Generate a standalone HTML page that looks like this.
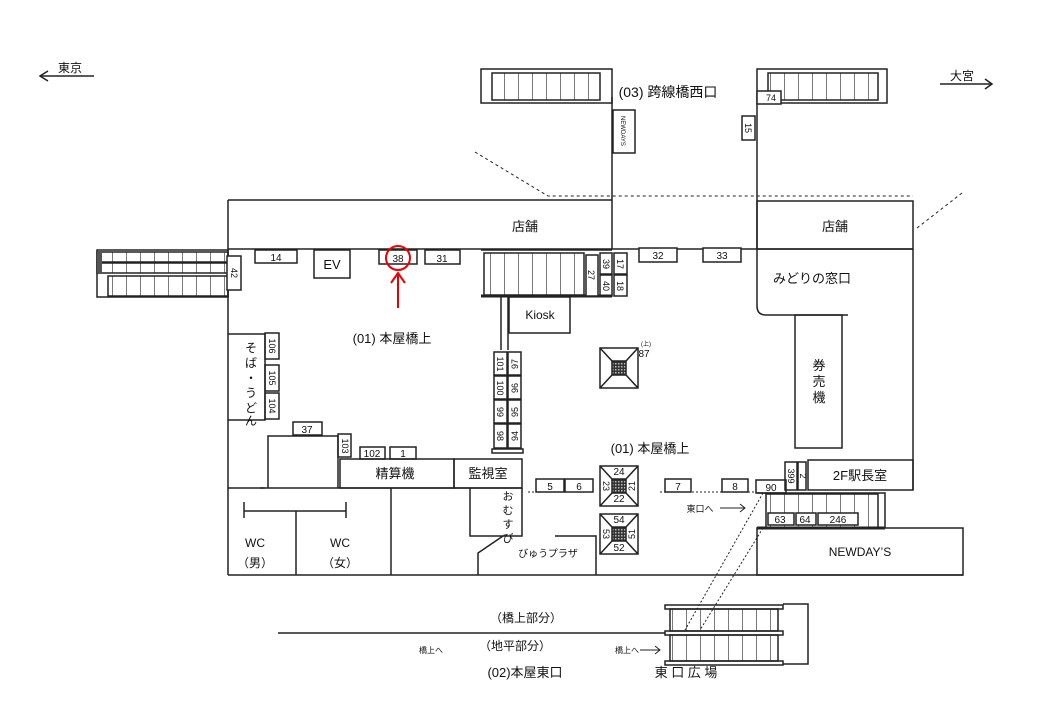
<!DOCTYPE html><html><head><meta charset="utf-8"><style>html,body{margin:0;padding:0;background:#fff}svg{display:block}text{font-family:"Liberation Sans","Noto Sans CJK JP",sans-serif;fill:#111}</style></head><body>
<svg width="1040" height="720" viewBox="0 0 1040 720" xmlns="http://www.w3.org/2000/svg">
<defs>
<pattern id="st" width="14" height="10" patternUnits="userSpaceOnUse"><line x1="0" y1="0" x2="0" y2="10" stroke="#222" stroke-width="1.2"/></pattern>
<pattern id="hx" width="3" height="3" patternUnits="userSpaceOnUse"><rect width="3" height="3" fill="#333"/><rect width="1.5" height="1.5" fill="#bbb"/></pattern>
</defs>
<g stroke="#222" stroke-width="1.5" fill="none">
<!-- direction arrows -->
<line x1="40" y1="76" x2="94" y2="76"/><polyline points="48,71 40,76 48,81"/>
<line x1="940" y1="84" x2="992" y2="84"/><polyline points="985,79 992,84 985,89"/>
<!-- top stairs -->
<rect x="481" y="69" width="131" height="34"/><rect x="492" y="73" width="108" height="27" fill="url(#st)"/>
<rect x="757" y="69" width="130" height="34"/><rect x="768" y="73" width="110" height="27" fill="url(#st)"/>
<line x1="612" y1="97" x2="612" y2="249"/><line x1="757" y1="103" x2="757" y2="249"/>
<rect x="613" y="110" width="22" height="43" fill="#fff"/>
<rect x="742" y="116" width="13" height="24"/><rect x="757" y="91" width="24" height="13" fill="#fff"/>
<!-- dashed -->
<polyline points="475,152 548,196 913,196" stroke-dasharray="3,3" stroke-width="1"/>
<line x1="917" y1="228" x2="962" y2="193" stroke-dasharray="3,3" stroke-width="1"/>
<!-- main outline -->
<line x1="228" y1="200" x2="612" y2="200"/><rect x="757" y="201" width="156" height="48"/>
<line x1="228" y1="200" x2="228" y2="575"/>
<line x1="228" y1="249" x2="913" y2="249"/>
<line x1="913" y1="249" x2="913" y2="490"/>
<line x1="228" y1="575" x2="963" y2="575"/>
<!-- left escalator -->
<rect x="97" y="250" width="131" height="47"/>
<rect x="97" y="252" width="131" height="10" fill="url(#st)"/>
<rect x="97" y="263" width="131" height="10" fill="url(#st)"/>
<rect x="108" y="276" width="120" height="20" fill="url(#st)"/>
<rect x="97" y="252" width="5" height="21" fill="#555" stroke="none"/>
<rect x="227" y="256" width="14" height="34" fill="#fff"/>
<!-- top-row boxes -->
<rect x="255" y="250" width="42" height="13"/><rect x="314" y="250" width="36" height="28"/>
<rect x="379" y="250" width="38" height="14"/><rect x="425" y="250" width="35" height="14"/>
<!-- central stairs -->
<line x1="481" y1="250" x2="612" y2="250"/><line x1="481" y1="296" x2="612" y2="296" stroke-width="3"/>
<rect x="484" y="253" width="100" height="42" fill="url(#st)"/>
<rect x="586" y="255" width="12" height="41" fill="#fff"/>
<rect x="600" y="253" width="12" height="21"/><rect x="600" y="275" width="12" height="21"/>
<rect x="614" y="253" width="13" height="21"/><rect x="614" y="275" width="13" height="21"/>
<rect x="639" y="248" width="38" height="14" fill="#fff"/><rect x="703" y="248" width="38" height="14" fill="#fff"/>
<rect x="509" y="297" width="61" height="36"/>
<line x1="501" y1="297" x2="501" y2="350"/><line x1="508" y1="297" x2="508" y2="350"/>
<!-- lockers -->
<rect x="494" y="352" width="13" height="23"/><rect x="508" y="352" width="13" height="23"/>
<rect x="494" y="376" width="13" height="23"/><rect x="508" y="376" width="13" height="23"/>
<rect x="494" y="400" width="13" height="23"/><rect x="508" y="400" width="13" height="23"/>
<rect x="494" y="424" width="13" height="24"/><rect x="508" y="424" width="13" height="24"/>
<rect x="492" y="449" width="31" height="4"/>
<!-- soba -->
<polyline points="228,334 265,334 265,420 228,420"/>
<rect x="265" y="333" width="14" height="26"/><rect x="265" y="365" width="14" height="26"/><rect x="265" y="393" width="14" height="26"/>
<rect x="293" y="422" width="29" height="13"/>
<polyline points="268,488 268,436 338,436 338,488"/>
<rect x="338" y="434" width="13" height="23"/>
<rect x="360" y="447" width="25" height="12"/><rect x="390" y="447" width="26" height="12"/>
<rect x="340" y="459" width="114" height="29"/><rect x="454" y="459" width="68" height="29"/>
<line x1="228" y1="488" x2="265" y2="488"/><line x1="260" y1="488" x2="522" y2="488"/>
<line x1="244" y1="502" x2="244" y2="518"/><line x1="346" y1="502" x2="346" y2="518"/><line x1="244" y1="511" x2="346" y2="511"/>
<line x1="296" y1="511" x2="296" y2="575"/><line x1="391" y1="488" x2="391" y2="575"/>
<polyline points="470,488 470,536 522,536 522,488"/>
<polyline points="503,536 478,553 478,575"/><polyline points="555,536 596,536 596,575"/>
<!-- pillars -->
<g id="p"><rect x="600" y="348" width="38" height="40"/><rect x="612" y="361" width="14" height="14" fill="url(#hx)"/><line x1="600" y1="348" x2="612" y2="361"/><line x1="638" y1="348" x2="626" y2="361"/><line x1="600" y1="388" x2="612" y2="375"/><line x1="638" y1="388" x2="626" y2="375"/></g>
<use href="#p" y="118"/><use href="#p" y="166"/>
<!-- midori -->
<path d="M757,249 V306 Q757,315 766,315 H848"/>
<rect x="795" y="315" width="47" height="133"/>
<rect x="808" y="460" width="105" height="30"/><rect x="785" y="462" width="12" height="28"/><rect x="798" y="462" width="8" height="28"/>
<rect x="536" y="479" width="28" height="13"/><rect x="565" y="479" width="28" height="13"/>
<rect x="665" y="479" width="26" height="13"/><rect x="722" y="479" width="26" height="13"/>
<rect x="756" y="480" width="30" height="13"/>
<line x1="528" y1="492" x2="536" y2="492" stroke-dasharray="2,2" stroke-width="1"/>
<line x1="660" y1="492" x2="756" y2="492" stroke-dasharray="2,2" stroke-width="1"/>
<polyline points="757,493 885,493 885,528"/>
<rect x="766" y="494" width="112" height="34" fill="url(#st)"/>
<rect x="768" y="513" width="26" height="12" fill="#fff"/><rect x="796" y="513" width="20" height="12" fill="#fff"/><rect x="818" y="513" width="40" height="12" fill="#fff"/>
<line x1="757" y1="528" x2="885" y2="528" stroke-width="3"/>
<rect x="757" y="528" width="206" height="47"/>
<line x1="763" y1="493" x2="685" y2="630" stroke-dasharray="2,2" stroke-width="1"/>
<line x1="763" y1="528" x2="700" y2="630" stroke-dasharray="2,2" stroke-width="1"/>
<line x1="720" y1="508" x2="745" y2="508" stroke-width="1"/><polyline points="740,504 745,508 740,512" stroke-width="1"/>
<!-- bottom -->
<line x1="278" y1="633" x2="665" y2="633"/>
<rect x="665" y="605" width="118" height="4"/><rect x="665" y="631" width="118" height="4"/><rect x="665" y="661" width="118" height="4"/>
<rect x="670" y="609" width="108" height="22" fill="url(#st)"/><rect x="670" y="635" width="108" height="26" fill="url(#st)"/>
<polyline points="783,604 808,604 808,664 783,664"/>
<line x1="640" y1="650" x2="660" y2="650" stroke-width="1"/><polyline points="655,646 660,650 655,654" stroke-width="1"/>
<circle cx="398" cy="258" r="12" stroke="#e00" stroke-width="2"/>
<line x1="398" y1="273" x2="398" y2="308" stroke="#e00" stroke-width="2"/><polyline points="391,283 398,273 405,283" stroke="#e00" stroke-width="2"/>
</g>
<g font-size="12" text-anchor="middle">
<text x="70" y="72">東京</text><text x="962" y="80">大宮</text>
<text x="668" y="97" font-size="14">(03) 跨線橋西口</text>
<text x="525" y="231" font-size="13">店舗</text><text x="835" y="231" font-size="13">店舗</text>
<text x="276" y="261" font-size="10">14</text><text x="332" y="269" font-size="13">EV</text>
<text x="398" y="262" font-size="10">38</text><text x="442" y="262" font-size="10">31</text>
<text x="658" y="259" font-size="10">32</text><text x="722" y="259" font-size="10">33</text>
<text x="771" y="101" font-size="9">74</text>
<text x="540" y="319" font-size="12">Kiosk</text>
<text x="392" y="343" font-size="13">(01) 本屋橋上</text>
<text x="650" y="453" font-size="13">(01) 本屋橋上</text>
<text x="812" y="283" font-size="13">みどりの窓口</text>
<text x="819" y="370" font-size="13">券</text><text x="819" y="386" font-size="13">売</text><text x="819" y="402" font-size="13">機</text>
<text x="860" y="480" font-size="13">2F駅長室</text>
<text x="395" y="478" font-size="13">精算機</text><text x="488" y="478" font-size="13">監視室</text>
<text x="255" y="547">WC</text><text x="255" y="567">（男）</text>
<text x="340" y="547">WC</text><text x="340" y="567">（女）</text>
<text x="548" y="557" font-size="10">びゅうプラザ</text>
<text x="860" y="556" font-size="12">NEWDAY’S</text>
<text x="307" y="433" font-size="10">37</text><text x="372" y="457" font-size="10">102</text><text x="403" y="457" font-size="10">1</text>
<text x="550" y="490" font-size="10">5</text><text x="579" y="490" font-size="10">6</text>
<text x="678" y="490" font-size="10">7</text><text x="735" y="490" font-size="10">8</text><text x="771" y="491" font-size="10">90</text>
<text x="619" y="475" font-size="10">24</text><text x="619" y="502" font-size="10">22</text>
<text x="619" y="523" font-size="10">54</text><text x="619" y="551" font-size="10">52</text>
<text x="644" y="357" font-size="10">87</text><text x="646" y="346" font-size="6">(上)</text>
<text x="780" y="523" font-size="10">63</text><text x="805" y="523" font-size="10">64</text><text x="838" y="523" font-size="10">246</text>
<text x="700" y="512" font-size="9">東口へ</text>
<text x="526" y="622" font-size="12">（橋上部分）</text><text x="515" y="650" font-size="12">（地平部分）</text>
<text x="431" y="653" font-size="8">橋上へ</text><text x="627" y="653" font-size="8">橋上へ</text>
<text x="525" y="677" font-size="13">(02)本屋東口</text><text x="686" y="677" font-size="13">東 口 広 場</text>
<text x="508" y="500" font-size="11">お</text><text x="508" y="514" font-size="11">む</text><text x="508" y="528" font-size="11">す</text><text x="508" y="542" font-size="11">び</text>
<text x="251" y="352" font-size="12">そ</text><text x="251" y="367" font-size="12">ば</text><text x="251" y="382" font-size="12">・</text><text x="251" y="397" font-size="12">う</text><text x="251" y="412" font-size="12">ど</text><text x="251" y="425" font-size="12">ん</text>
</g>
<g font-size="9" text-anchor="middle">
<text transform="translate(231,273) rotate(90)">42</text>
<text transform="translate(269,346) rotate(90)">106</text><text transform="translate(269,378) rotate(90)">105</text><text transform="translate(269,406) rotate(90)">104</text>
<text transform="translate(342,446) rotate(90)">103</text>
<text transform="translate(588,275) rotate(90)">27</text>
<text transform="translate(603,264) rotate(90)">39</text><text transform="translate(603,286) rotate(90)">40</text>
<text transform="translate(617,264) rotate(90)">17</text><text transform="translate(617,286) rotate(90)">18</text>
<text transform="translate(745,128) rotate(90)">15</text>
<text transform="translate(621,131) rotate(90)" font-size="6">NEWDAYS</text>
<text transform="translate(497,364) rotate(90)">101</text><text transform="translate(497,388) rotate(90)">100</text><text transform="translate(497,412) rotate(90)">99</text><text transform="translate(497,436) rotate(90)">98</text>
<text transform="translate(518,364) rotate(-90)">97</text><text transform="translate(518,388) rotate(-90)">96</text><text transform="translate(518,412) rotate(-90)">95</text><text transform="translate(518,436) rotate(-90)">94</text>
<text transform="translate(603,486) rotate(90)">23</text><text transform="translate(635,486) rotate(-90)">21</text>
<text transform="translate(603,534) rotate(90)">53</text><text transform="translate(635,534) rotate(-90)">51</text>
<text transform="translate(788,476) rotate(90)">399</text><text transform="translate(800,476) rotate(90)">2</text>
</g>
</svg></body></html>
